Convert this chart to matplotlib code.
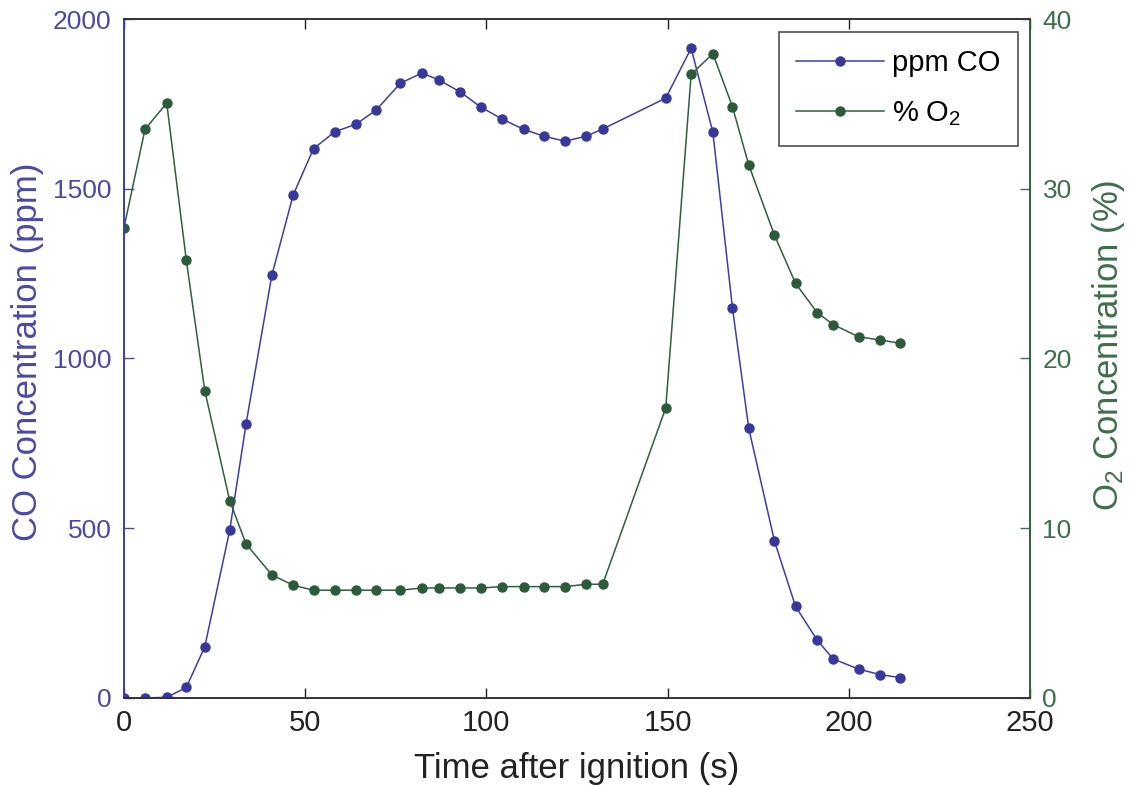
import numpy as np
import matplotlib
matplotlib.use("Agg")
import matplotlib.pyplot as plt

plt.rcParams['font.family'] = ['Liberation Sans', 'DejaVu Sans']
plt.rcParams['mathtext.default'] = 'regular'

# time after ignition (s), shared by both series
time_s = [0, 5.8, 11.8, 17.2, 22.3, 29.2, 33.7, 40.8, 46.7, 52.3, 58.2, 64.0,
          69.5, 76.3, 82.2, 87.0, 92.8, 98.4, 104.4, 110.3, 115.8, 121.7, 127.6,
          132.1, 149.5, 156.5, 162.5, 167.9, 172.4, 179.5, 185.3, 191.3, 195.7,
          202.7, 208.6, 214.1]

co_ppm = [0, 0, 2, 31, 151, 495, 808, 1245, 1482, 1618, 1668, 1690,
          1731, 1811, 1841, 1820, 1785, 1741, 1705, 1675, 1655, 1640, 1655,
          1676, 1767, 1914, 1666, 1149, 794, 462, 270, 170, 115,
          85, 69, 60]

o2_pct = [27.7, 33.5, 35.05, 25.8, 18.1, 11.6, 9.07, 7.25, 6.64, 6.35, 6.35, 6.35,
          6.35, 6.35, 6.48, 6.48, 6.48, 6.48, 6.56, 6.56, 6.56, 6.56, 6.7,
          6.7, 17.1, 36.74, 37.96, 34.83, 31.4, 27.26, 24.43, 22.7, 22.0,
          21.28, 21.09, 20.9]

blue = '#3d3da8'
blue_txt = '#4a4aa6'
green = '#2f5f3d'
green_txt = '#3e6e4c'

fig = plt.figure(figsize=(11.3, 7.86), dpi=100)
ax = fig.add_axes([0.1097, 0.112, 0.8018, 0.8638])
ax2 = ax.twinx()

l1, = ax.plot(time_s, co_ppm, '-o', color=blue, lw=1.1, ms=6.5,
              mfc='#38389a', mec='#38389a', label='ppm CO')
l2, = ax2.plot(time_s, o2_pct, '-o', color=green, lw=1.1, ms=6.5,
               mfc='#2c5a3a', mec='#2c5a3a', label='% O$_2$')

ax.set_xlim(0, 250)
ax.set_ylim(0, 2000)
ax2.set_ylim(0, 40)
ax.set_xticks(np.arange(0, 251, 50))
ax.set_yticks(np.arange(0, 2001, 500))
ax2.set_yticks(np.arange(0, 41, 10))

ax.tick_params(axis='x', direction='in', length=7, width=1, top=True,
               labelsize=21, pad=8, colors='#222222')
ax.tick_params(axis='y', direction='in', length=7, width=1, labelsize=19,
               pad=9, colors=blue_txt)
ax2.tick_params(axis='y', direction='in', length=7, width=1, labelsize=19,
                pad=9, colors=green_txt)

for a in (ax, ax2):
    a.spines['top'].set_color('#333333')
    a.spines['bottom'].set_color('#333333')
    a.spines['left'].set_color(blue)
    a.spines['right'].set_color(green)
    for s in a.spines.values():
        s.set_linewidth(1.2)

ax.set_xlabel('Time after ignition (s)', fontsize=25, color='#222222')
ax.set_ylabel('CO Concentration (ppm)', fontsize=25, color=blue_txt)
ax2.set_ylabel('O$_2$ Concentration (%)', fontsize=25, color=green_txt)
ax.xaxis.set_label_coords(0.5, -0.08)
ax.yaxis.set_label_coords(-0.088, 0.51)
ax2.yaxis.set_label_coords(1.066, 0.52)

leg = ax2.legend(handles=[l1, l2], loc='upper right',
                 bbox_to_anchor=(0.987, 0.981), fontsize=21, frameon=True,
                 fancybox=False, edgecolor='#222222', handlelength=3.0,
                 handletextpad=0.3, labelspacing=0.75, borderpad=0.6,
                 borderaxespad=0)
leg.get_frame().set_linewidth(1.2)

fig.savefig('out.png', dpi=100)
